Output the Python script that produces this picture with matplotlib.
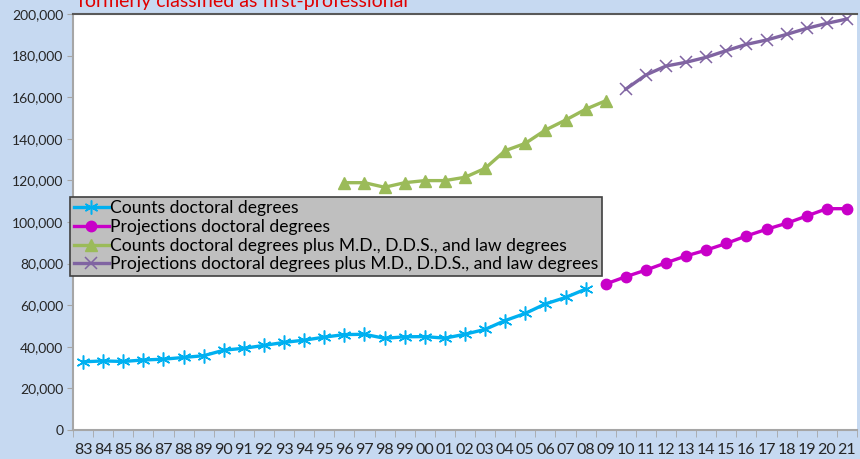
import matplotlib
matplotlib.use("Agg")
import matplotlib.pyplot as plt
import numpy as np

# x categories (two-digit years)
years = ["83", "84", "85", "86", "87", "88", "89", "90", "91", "92", "93", "94", "95",
         "96", "97", "98", "99", "00", "01", "02", "03", "04", "05", "06", "07", "08",
         "09", "10", "11", "12", "13", "14", "15", "16", "17", "18", "19", "20", "21"]

# Counts doctoral degrees: 83..08
counts_doc = [32775, 33209, 32943, 33653, 34041, 34870, 35720, 38371, 39294, 40659,
              42132, 43185, 44652, 45876, 46010, 44077, 44808, 44904, 44160, 46042,
              48378, 52631, 56067, 60616, 63712, 67716]
# Projections doctoral degrees: 09..21
proj_doc = [70200, 73700, 76900, 80400, 83700, 86500, 89700, 93300, 96500, 99400,
            102900, 106400, 106400]
# Counts incl. M.D., D.D.S., law: 96..09
counts_all = [118900, 118900, 116700, 118900, 119900, 119900, 121500, 125800, 134300,
              137800, 144200, 149000, 154200, 158300]
# Projections incl. M.D., D.D.S., law: 10..21
proj_all = [163900, 170700, 175000, 176800, 179200, 182400, 185400, 187500, 190200,
            193100, 195500, 197600]

labels = ["Counts doctoral degrees",
          "Projections doctoral degrees",
          "Counts doctoral degrees plus M.D., D.D.S., and law degrees",
          "Projections doctoral degrees plus M.D., D.D.S., and law degrees"]

plt.rcParams['font.family'] = ['Lato', 'DejaVu Sans']

bg = "#C6D9F1"
fig = plt.figure(figsize=(8.6, 4.59), dpi=100, facecolor=bg)
ax = fig.add_axes([73 / 860, 1 - 430 / 459, 784 / 860, 416 / 459])
ax.set_facecolor("white")

x = np.arange(len(years))
i_doc = 0
i_proj = years.index("09")
i_all = years.index("96")
i_pall = years.index("10")

star = (6, 2, 0)
ax.plot(x[i_doc:i_doc + len(counts_doc)], counts_doc, color="#00B0F0", lw=2.4,
        marker=star, ms=10, mew=1.1, label=labels[0])
ax.plot(x[i_proj:i_proj + len(proj_doc)], proj_doc, color="#C800C8", lw=2.4,
        marker="o", ms=7.5, label=labels[1])
ax.plot(x[i_all:i_all + len(counts_all)], counts_all, color="#9BBB59", lw=2.4,
        marker="^", ms=8.5, label=labels[2])
ax.plot(x[i_pall:i_pall + len(proj_all)], proj_all, color="#8064A2", lw=2.4,
        marker="x", ms=8, mew=1.1, label=labels[3])

ax.set_xlim(-0.5, len(years) - 0.5)
ax.set_ylim(0, 200000)
ax.set_yticks(np.arange(0, 200001, 20000))
ax.set_yticklabels([f"{v:,}" for v in range(0, 200001, 20000)])
ax.set_xticks(x)
ax.set_xticklabels(years)
ax.set_xticks(np.arange(-0.5, len(years), 1), minor=True)
ax.tick_params(axis="x", which="major", length=0, pad=9, labelsize=11.5, labelcolor="#262626")
ax.tick_params(axis="x", which="minor", length=5, color="#A6A6A6", direction="out")
ax.tick_params(axis="y", length=4, color="#A6A6A6", labelsize=10, labelcolor="#262626", pad=3)

for s in ("left", "bottom"):
    ax.spines[s].set_color("#A6A6A6")
    ax.spines[s].set_linewidth(1.5)
ax.spines["right"].set_visible(False)
ax.spines["top"].set_color("#595959")
ax.spines["top"].set_linewidth(1.5)

leg = ax.legend(loc="upper left", bbox_to_anchor=(70 / 860, 1 - 197 / 459),
                bbox_transform=fig.transFigure, fontsize=12.6, frameon=True,
                fancybox=False, handlelength=2.0, handletextpad=0.1,
                borderpad=0.2, labelspacing=0.15, borderaxespad=0)
leg.get_frame().set_facecolor("#BFBFBF")
leg.get_frame().set_edgecolor("#404040")
leg.get_frame().set_linewidth(1.2)
leg.get_frame().set_alpha(1)

# title line is partly cut off at the top edge, as in the source chart
fig.text(78 / 860, 1 - 7 / 459, "formerly classified as first-professional",
         color="#E00000", fontsize=14, va="baseline", ha="left")

fig.savefig("out.png", dpi=100, facecolor=bg)
